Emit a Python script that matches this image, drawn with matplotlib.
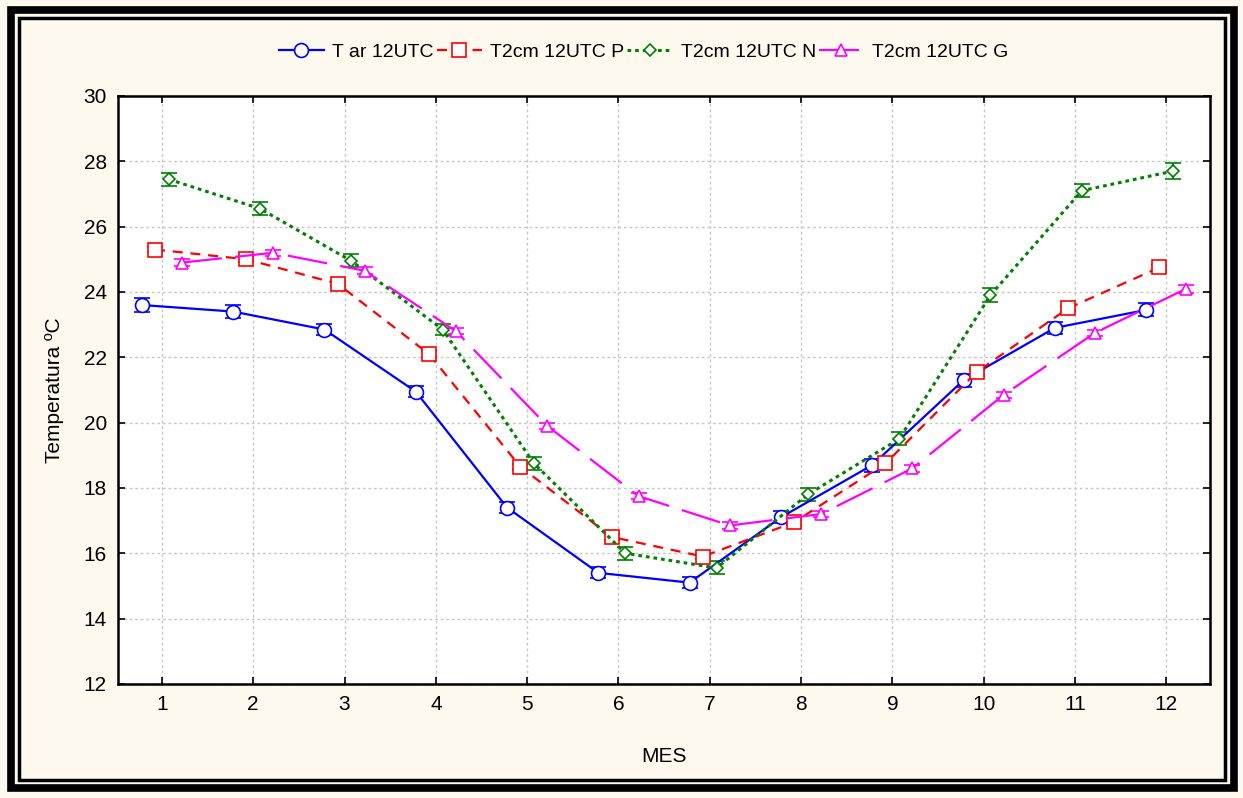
import matplotlib.pyplot as plt
import numpy as np
from matplotlib.patches import Rectangle
from matplotlib import font_manager

nomes_fontes = set(f.name for f in font_manager.fontManager.ttflist)
if 'Liberation Sans Narrow' in nomes_fontes:
    plt.rcParams['font.family'] = ['Liberation Sans Narrow', 'DejaVu Sans']
    tam = 17
else:
    plt.rcParams['font.family'] = ['Liberation Sans', 'DejaVu Sans']
    tam = 15

meses = np.arange(1, 13)

# T ar 12UTC
tar = [23.6, 23.4, 22.85, 20.95, 17.4, 15.4, 15.1, 17.1, 18.7, 21.3, 22.9, 23.45]
tar_err = [0.2, 0.2, 0.18, 0.18, 0.17, 0.17, 0.17, 0.18, 0.2, 0.2, 0.18, 0.2]
# T2cm 12UTC P
t2p = [25.3, 25.0, 24.25, 22.1, 18.65, 16.5, 15.9, 16.95, 18.75, 21.55, 23.5, 24.75]
t2p_err = [0.08, 0.08, 0.08, 0.08, 0.08, 0.08, 0.08, 0.08, 0.08, 0.08, 0.08, 0.08]
# T2cm 12UTC N
t2n = [27.45, 26.55, 24.95, 22.85, 18.75, 16.0, 15.55, 17.8, 19.5, 23.9, 27.1, 27.7]
t2n_err = [0.2, 0.2, 0.2, 0.18, 0.2, 0.2, 0.2, 0.2, 0.2, 0.22, 0.2, 0.25]
# T2cm 12UTC G
t2g = [24.9, 25.2, 24.65, 22.8, 19.9, 17.75, 16.85, 17.2, 18.6, 20.85, 22.75, 24.1]
t2g_err = [0.1, 0.1, 0.1, 0.1, 0.1, 0.1, 0.1, 0.1, 0.1, 0.1, 0.1, 0.12]

nomes = ['T ar 12UTC', 'T2cm 12UTC P', 'T2cm 12UTC N', 'T2cm 12UTC G']

fig = plt.figure(figsize=(12.43, 7.98), dpi=100)
fig.patch.set_facecolor('#fdf9ee')
ax = fig.add_axes([0.095, 0.143, 0.8785, 0.7367])
ax.set_facecolor('white')

series = [
    (tar, tar_err, -0.22, 'blue', 'o', 10, '-', None, 1.6),
    (t2p, t2p_err, -0.075, 'red', 's', 10, '--', (4.5, 3.5), 1.6),
    (t2n, t2n_err, 0.075, 'green', 'D', 6.5, ':', (1.2, 1.3), 2.2),
    (t2g, t2g_err, 0.22, 'magenta', '^', 8, '--', (18, 6), 1.6),
]

handles = []
for (vals, err, off, cor, mk, ms, ls, dash, lw), nome in zip(series, nomes):
    x = meses + off
    eb = ax.errorbar(x, vals, yerr=err, color=cor, ecolor=cor, elinewidth=1.5,
                     capsize=6, capthick=2, marker=mk, ms=ms, mfc='white',
                     mec=cor, mew=1.2, lw=lw, ls=ls, label=nome, zorder=3)
    if dash is not None:
        eb[0].set_dashes(dash)
    handles.append(eb[0])

ax.set_xlim(0.52, 12.48)
ax.set_ylim(12, 30)
ax.set_xticks(meses)
ax.set_yticks(np.arange(12, 31, 2))
ax.tick_params(direction='in', length=5, width=1.2, labelsize=tam, pad=8,
               top=True, right=True)
ax.grid(True, color='#c8c8c8', ls=(0, (2, 2)), lw=1)
ax.set_axisbelow(True)
for s in ax.spines.values():
    s.set_linewidth(1.8)

ax.set_xlabel('MES', fontsize=tam, labelpad=24)
ax.set_ylabel('Temperatura ºC', fontsize=tam, labelpad=14)

fig.legend(handles, nomes, loc='center', bbox_to_anchor=(0.518, 0.935), ncol=4,
           frameon=False, fontsize=tam - 1, handlelength=2.3, columnspacing=0.15,
           handletextpad=0.45)

# double frame round the figure
fig.patches.append(Rectangle((0.0085, 0.012), 0.984, 0.976, transform=fig.transFigure,
                             fill=False, ec='black', lw=5.5))
fig.patches.append(Rectangle((0.0155, 0.023), 0.97, 0.955, transform=fig.transFigure,
                             fill=False, ec='black', lw=2.5))

fig.savefig('out.png', dpi=100, facecolor=fig.get_facecolor())
